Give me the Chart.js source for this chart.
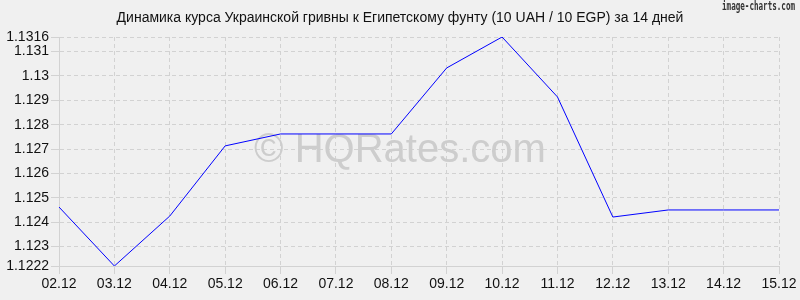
<!DOCTYPE html>
<html>
<head>
<meta charset="utf-8">
<script src="https://cdn.jsdelivr.net/npm/chart.js@4"></script>
<style>
  html, body { margin: 0; padding: 0; background: #f0f0f0; }
  #wrap { width: 800px; height: 300px; }
</style>
</head>
<body>
<div id="wrap"><canvas id="rates"></canvas></div>
<script>
const days = ['02.12', '03.12', '04.12', '05.12', '06.12', '07.12', '08.12',
    '09.12', '10.12', '11.12', '12.12', '13.12', '14.12', '15.12'];
const rates = [1.12462, 1.1222, 1.12425, 1.12713, 1.12762, 1.12762, 1.12762,
    1.13033, 1.1316, 1.12914, 1.12421, 1.1245, 1.1245, 1.1245];
const yTicks = [1.1222, 1.123, 1.124, 1.125, 1.126, 1.127, 1.128, 1.129, 1.13, 1.131, 1.1316];
const title = 'Динамика курса Украинской гривны к Египетскому фунту (10 UAH / 10 EGP) за 14 дней';

const gridColor = '#d2d2d2';
const font = { family: 'Arial, "Liberation Sans", sans-serif', size: 14 };

// background, title, watermark and the little brand label
const decor = {
    id: 'decor',
    beforeDraw(chart) {
        const ctx = chart.ctx;
        ctx.save();
        ctx.fillStyle = '#f0f0f0';
        ctx.fillRect(0, 0, chart.width, chart.height);
        ctx.font = '14px ' + font.family;
        ctx.fillStyle = '#111';
        ctx.textAlign = 'center';
        ctx.textBaseline = 'middle';
        ctx.fillText(title, chart.width / 2, 18);
        ctx.restore();
    },
    beforeDatasetsDraw(chart) {
        const ctx = chart.ctx;
        ctx.save();
        ctx.font = '40px ' + font.family;
        ctx.fillStyle = '#cdcdcd';
        ctx.textAlign = 'center';
        ctx.textBaseline = 'alphabetic';
        ctx.fillText('© HQRates.com', 400, 162);
        ctx.restore();
    },
    afterDraw(chart) {
        const ctx = chart.ctx;
        ctx.save();
        ctx.font = 'bold 12px "DejaVu Sans Mono", monospace';
        ctx.fillStyle = '#333';
        ctx.textAlign = 'right';
        ctx.textBaseline = 'middle';
        ctx.fillText('image-charts.com', 795, 7, 73);
        ctx.restore();
    }
};

new Chart(document.getElementById('rates'), {
    type: 'line',
    data: {
        labels: days,
        datasets: [{
            data: rates,
            borderColor: '#0000ff',
            borderWidth: 1,
            pointRadius: 0,
            tension: 0,
            fill: false
        }]
    },
    options: {
        responsive: true,
        maintainAspectRatio: false,
        animation: false,
        layout: { padding: { top: 37, right: 21, bottom: 0, left: 0 } },
        plugins: {
            legend: { display: false },
            tooltip: { enabled: false },
            title: { display: false }
        },
        scales: {
            x: {
                offset: false,
                grid: { color: gridColor, tickLength: 8, tickColor: gridColor },
                border: { display: true, color: gridColor, dash: [4, 3] },
                ticks: { color: '#111', font: font, maxRotation: 0, autoSkip: false, padding: 2 },
                afterFit(axis) { axis.height = 34; }
            },
            y: {
                min: 1.1222,
                max: 1.1316,
                grid: { color: gridColor, tickLength: 8, tickColor: gridColor },
                border: { display: true, color: gridColor, dash: [4, 3] },
                ticks: { color: '#111', font: font, padding: 2, callback: v => String(v) },
                afterBuildTicks(axis) { axis.ticks = yTicks.map(v => ({ value: v })); },
                afterFit(axis) { axis.width = 59; }
            }
        }
    },
    plugins: [decor]
});
</script>
</body>
</html>
